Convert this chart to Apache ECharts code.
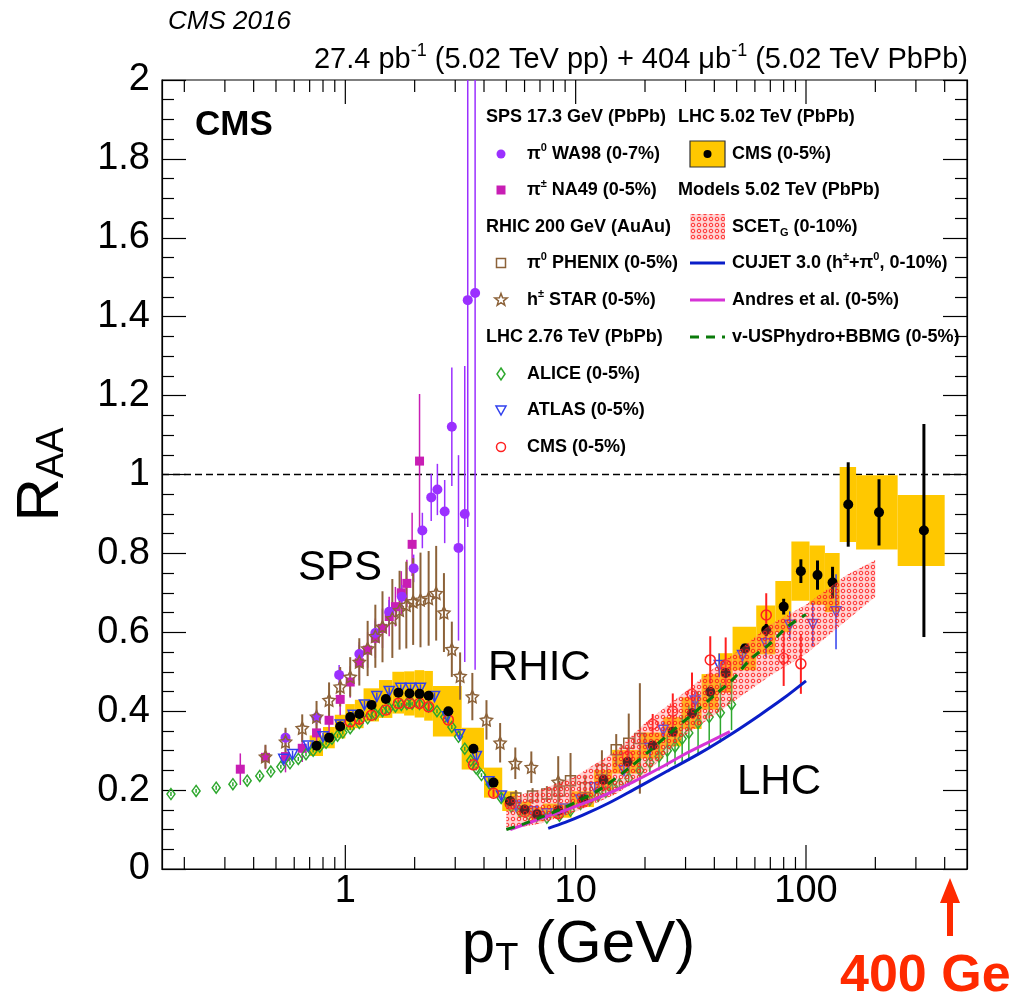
<!DOCTYPE html>
<html><head><meta charset="utf-8">
<script src="https://cdn.jsdelivr.net/npm/echarts@6/dist/echarts.min.js"></script>
<style>html,body{margin:0;padding:0;background:#fff}#c{width:1012px;height:997px}</style>
</head><body><div id="c"></div><script>
// ---------------- data ----------------
// [pT, R_AA, error]
const wa98 = [[0.55,0.333,0.02],[0.75,0.384,0.02],[0.94,0.492,0.025],[1.15,0.545,0.03],[1.35,0.598,0.03],[1.55,0.652,0.03],[1.76,0.69,0.03],[1.98,0.762,0.035],[2.16,0.858,0.045],[2.36,0.942,0.06],[2.51,0.962,0.065],[2.70,0.906,0.08],[2.90,1.121,0.15],[3.10,0.814,0.235],[3.30,0.90,0.375],[3.40,1.442,0.575],[3.66,1.46,0.955]];
const na49 = [[0.35,0.253,0.04],[0.45,0.283,0.03],[0.55,0.285,0.04],[0.65,0.306,0.035],[0.75,0.345,0.04],[0.85,0.377,0.045],[0.95,0.43,0.04],[1.05,0.474,0.04],[1.15,0.523,0.045],[1.25,0.555,0.045],[1.35,0.585,0.05],[1.45,0.61,0.05],[1.55,0.64,0.05],[1.65,0.665,0.05],[1.75,0.70,0.055],[1.85,0.724,0.06],[1.95,0.823,0.08],[2.1,1.034,0.17]];
const phenix = [[5.5,0.18,0.02],[6.5,0.185,0.02],[7.5,0.19,0.02],[8.5,0.198,0.025],[9.5,0.224,0.07],[11,0.206,0.03],[13,0.251,0.05],[15,0.302,0.04],[17,0.319,0.075],[19,0.331,0.14]];
const star = [[0.45,0.285,0.03],[0.55,0.323,0.035],[0.65,0.357,0.035],[0.75,0.386,0.04],[0.85,0.428,0.045],[0.95,0.462,0.05],[1.05,0.487,0.05],[1.15,0.525,0.06],[1.25,0.559,0.07],[1.35,0.59,0.08],[1.45,0.614,0.09],[1.6,0.635,0.1],[1.72,0.656,0.1],[1.84,0.669,0.11],[1.97,0.678,0.11],[2.12,0.682,0.12],[2.3,0.686,0.12],[2.48,0.699,0.12],[2.68,0.65,0.1],[2.9,0.557,0.07],[3.15,0.489,0.06],[3.56,0.437,0.06],[4.1,0.378,0.05],[4.7,0.32,0.05],[5.47,0.268,0.04],[6.42,0.258,0.04],[8.4,0.221,0.065]];
const alice = [[0.175,0.19,0.005],[0.225,0.198,0.005],[0.275,0.206,0.005],[0.325,0.215,0.005],[0.375,0.224,0.005],[0.425,0.236,0.005],[0.475,0.247,0.005],[0.525,0.259,0.005],[0.575,0.268,0.005],[0.625,0.279,0.005],[0.675,0.291,0.005],[0.725,0.300,0.005],[0.775,0.310,0.005],[0.825,0.320,0.005],[0.875,0.330,0.005],[0.925,0.338,0.005],[0.975,0.346,0.005],[1.05,0.357,0.005],[1.15,0.370,0.005],[1.25,0.382,0.005],[1.35,0.392,0.005],[1.45,0.400,0.005],[1.55,0.407,0.005],[1.65,0.412,0.005],[1.75,0.416,0.005],[1.85,0.418,0.005],[1.95,0.419,0.005],[2.1,0.418,0.005],[2.3,0.412,0.005],[2.5,0.400,0.005],[2.7,0.385,0.005],[2.9,0.36,0.005],[3.1,0.335,0.005],[3.3,0.305,0.005],[3.5,0.275,0.005],[3.7,0.255,0.005],[3.9,0.238,0.005],[4.25,0.215,0.005],[4.75,0.18,0.005],[5.25,0.158,0.005],[5.75,0.145,0.005],[6.25,0.138,0.005],[6.75,0.133,0.005],[7.5,0.13,0.006],[8.5,0.135,0.007],[9.5,0.148,0.008],[10.5,0.165,0.01],[11.5,0.175,0.01],[12.5,0.185,0.012],[13.5,0.195,0.013],[14.5,0.205,0.014],[15.5,0.215,0.015],[17,0.23,0.02],[19,0.25,0.025],[21,0.27,0.03],[23,0.285,0.035],[25,0.30,0.04],[27,0.31,0.045],[29,0.33,0.06],[31,0.345,0.07],[34,0.37,0.08],[38,0.385,0.08],[42.5,0.396,0.075],[47.5,0.417,0.065]];
const atlas = [[0.54,0.278,0.01],[0.59,0.29,0.01],[0.69,0.312,0.01],[0.8,0.335,0.01],[0.95,0.365,0.01],[1.08,0.39,0.01],[1.21,0.416,0.01],[1.37,0.437,0.01],[1.55,0.45,0.01],[1.74,0.458,0.01],[1.92,0.458,0.01],[2.12,0.458,0.01],[2.44,0.437,0.01],[2.77,0.386,0.01],[3.14,0.34,0.01],[3.71,0.285,0.01],[4.2,0.221,0.01],[4.76,0.185,0.01],[5.5,0.16,0.01],[6.5,0.145,0.01],[7.5,0.14,0.01],[9,0.152,0.01],[10.5,0.175,0.01],[12.1,0.206,0.012],[16.2,0.25,0.015],[21,0.306,0.02],[24,0.352,0.02],[33,0.426,0.025],[42,0.516,0.03],[53,0.541,0.03],[67,0.571,0.035],[85,0.618,0.035],[107,0.62,0.055],[135,0.652,0.095]];
const cms276 = [[1.05,0.373,0.01],[1.15,0.38,0.01],[1.3,0.39,0.01],[1.5,0.403,0.01],[1.7,0.42,0.01],[1.9,0.42,0.01],[2.1,0.42,0.01],[2.3,0.411,0.01],[2.8,0.378,0.01],[3.6,0.264,0.01],[4.4,0.192,0.01],[5.2,0.165,0.01],[6.0,0.145,0.01],[6.8,0.138,0.01],[8.4,0.14,0.01],[10.8,0.17,0.012],[13.2,0.215,0.018],[16.8,0.285,0.022],[21.6,0.367,0.026],[26.4,0.40,0.045],[32,0.443,0.055],[38.4,0.53,0.06],[44.8,0.517,0.07],[67.2,0.644,0.055],[80,0.534,0.07],[95,0.52,0.076]];
// CMS 5.02 TeV: [pT, R_AA, stat, syst, binLow, binHigh]
const cms502 = [[0.75,0.3125,0.003,0.026,0.7,0.8],[0.85,0.333,0.003,0.027,0.8,0.9],[0.95,0.361,0.003,0.03,0.9,1.0],[1.05,0.385,0.003,0.033,1.0,1.1],[1.15,0.393,0.003,0.036,1.1,1.2],[1.3,0.416,0.003,0.042,1.2,1.4],[1.5,0.431,0.003,0.048,1.4,1.6],[1.7,0.447,0.003,0.053,1.6,1.8],[1.9,0.445,0.003,0.056,1.8,2.0],[2.1,0.444,0.003,0.06,2.0,2.2],[2.3,0.439,0.003,0.063,2.2,2.4],[2.8,0.400,0.003,0.064,2.4,3.2],[3.6,0.305,0.003,0.053,3.2,4.0],[4.4,0.219,0.003,0.038,4.0,4.8],[5.2,0.172,0.003,0.025,4.8,5.6],[6.0,0.151,0.003,0.02,5.6,6.4],[6.8,0.139,0.003,0.018,6.4,7.2],[8.4,0.148,0.003,0.018,7.2,9.6],[10.8,0.177,0.004,0.02,9.6,12],[13.2,0.226,0.005,0.025,12,14.4],[16.8,0.272,0.005,0.03,14.4,19.2],[21.6,0.313,0.006,0.033,19.2,24],[26.4,0.348,0.007,0.037,24,28.8],[32,0.395,0.008,0.04,28.8,35.2],[38.4,0.449,0.009,0.045,35.2,41.6],[44.8,0.497,0.01,0.05,41.6,48],[54.4,0.559,0.012,0.055,48,60.8],[67.2,0.606,0.015,0.062,60.8,73.6],[80,0.665,0.02,0.065,73.6,86.4],[95,0.755,0.03,0.075,86.4,103.6],[112.2,0.745,0.037,0.075,103.6,120.8],[130.4,0.726,0.04,0.075,120.8,140],[152.5,0.924,0.107,0.095,140,165],[207.5,0.904,0.084,0.094,165,250],[325,0.858,0.27,0.09,250,400]];
// models
const scetPt   = [5,7,10,15,20,30,40,50,70,100,150,200];
const scetLow  = [0.10,0.115,0.145,0.19,0.24,0.34,0.39,0.43,0.49,0.545,0.63,0.69];
const scetHigh = [0.18,0.20,0.235,0.30,0.37,0.45,0.51,0.55,0.62,0.67,0.745,0.783];
const cujet = [[7.6,0.103],[9,0.118],[10.8,0.137],[14,0.168],[17.7,0.20],[24.8,0.247],[34.5,0.293],[48.2,0.345],[62.9,0.39],[79.6,0.432],[100,0.477]];
const andres = [[5.2,0.10],[7.0,0.127],[9.1,0.150],[12.7,0.182],[17.8,0.221],[23.2,0.256],[29.3,0.289],[37.1,0.319],[46.7,0.348]];
const vusp = [[5,0.10],[6,0.115],[7,0.13],[8.5,0.15],[10.5,0.175],[13,0.205],[17,0.255],[21,0.30],[25.6,0.344],[31.2,0.386],[40,0.44],[48,0.48],[57,0.53],[70,0.572],[83,0.614],[100,0.645]];
const refLevel = [1];
// axes
const xMin = 0.16, xMax = 500, yMin = 0, yMax = 2;
const xMajorTicks = [1,10,100];
const xMinorTicks = [0.2,0.3,0.4,0.5,0.6,0.7,0.8,0.9,2,3,4,5,6,7,8,9,20,30,40,50,60,70,80,90,200,300,400];

// ---------------- styling ----------------
const F = "'Liberation Sans', Arial, Helvetica, sans-serif";
const C = {wa98:'#9b30ff', na49:'#c81eb4', brown:'#8c6239', alice:'#2ea82e', atlas:'#3040ee', cms276:'#ff2020', yellow:'#ffc800', cujet:'#0a1ec8', andres:'#d633d6', vusp:'#0a7a0a', red:'#ff2a00'};

function makeHatch(){
  const c=document.createElement('canvas'); c.width=6; c.height=6;
  const g=c.getContext('2d');
  g.fillStyle='rgba(255,120,120,0.32)'; g.fillRect(0,0,6,6);
  g.strokeStyle='rgba(255,20,20,0.85)'; g.lineWidth=1;
  g.beginPath(); g.arc(3,3,1.8,0,Math.PI*2); g.stroke();
  return c;
}
const hatch = makeHatch();
const hatchFill = {image: hatch, repeat: 'repeat'};

const starPath = 'path://M0,-10L2.94,-4.05L9.51,-3.09L4.76,1.55L5.88,8.09L0,5L-5.88,8.09L-4.76,1.55L-9.51,-3.09L-2.94,-4.05Z';

function errSeries(data, color, w, z){
  return {type:'custom', silent:true, clip:true, z, data, encode:{x:0,y:1},
    renderItem:(p,api)=>{
      const x=api.value(0), y=api.value(1), e=api.value(2);
      const a=api.coord([x,y-e]), b=api.coord([x,y+e]);
      return {type:'line', shape:{x1:a[0],y1:a[1],x2:b[0],y2:b[1]}, style:{stroke:color, lineWidth:w}};
    }};
}
function markers(data, symbol, size, fill, stroke, bw, z, rot){
  return {type:'scatter', silent:true, z, data:data.map(d=>[d[0],d[1]]), symbol, symbolSize:size, symbolRotate:rot||0,
    itemStyle:{color:fill, borderColor:stroke, borderWidth:bw, opacity:1}};
}
function modelLine(data, color, type, z){
  return {type:'line', silent:true, z, data, smooth:0.3, showSymbol:false, symbol:'none',
    lineStyle:{color, width:3, type}};
}

const series = [
  {type:'custom', silent:true, z:1, data:refLevel.map(v=>[xMin,v]), encode:{x:0,y:1},
    renderItem:(p,api)=>{ const v=api.value(1); const a=api.coord([xMin,v]), b=api.coord([xMax,v]);
      return {type:'line', shape:{x1:a[0],y1:a[1],x2:b[0],y2:b[1]}, style:{stroke:'#000', lineWidth:1.5, lineDash:[7,4]}}; }},
  {type:'custom', silent:true, z:2, data:cms502, encode:{x:0,y:1},
    renderItem:(p,api)=>{ const y=api.value(1), s=api.value(3), lo=api.value(4), hi=api.value(5);
      const a=api.coord([lo,y+s]), b=api.coord([hi,y-s]);
      return {type:'rect', shape:{x:a[0], y:a[1], width:b[0]-a[0], height:b[1]-a[1]}, style:{fill:C.yellow}}; }},
  errSeries(na49, C.na49, 1.5, 3),
  errSeries(wa98, C.wa98, 1.5, 3),
  errSeries(star, C.brown, 2, 3),
  errSeries(phenix, C.brown, 2, 3),
  errSeries(alice, C.alice, 1.5, 3),
  errSeries(atlas, C.atlas, 1.5, 3),
  errSeries(cms276, C.cms276, 2, 3),
  errSeries(cms502, '#000', 3, 3),
  markers(na49, 'rect', 9, C.na49, C.na49, 0, 4),
  markers(wa98, 'circle', 10, C.wa98, C.wa98, 0, 4),
  markers(star, starPath, 12, 'rgba(0,0,0,0)', C.brown, 1.5, 4),
  markers(phenix, 'rect', 10, 'rgba(0,0,0,0)', C.brown, 1.5, 4),
  markers(alice, 'diamond', [8,11], 'rgba(0,0,0,0)', C.alice, 1.5, 4),
  markers(atlas, 'triangle', 10, 'rgba(0,0,0,0)', C.atlas, 1.5, 4, 180),
  markers(cms276, 'circle', 10, 'rgba(0,0,0,0)', C.cms276, 1.5, 4),
  markers(cms502, 'circle', 10, '#000', '#000', 0, 4),
  {type:'custom', silent:true, z:5, data:[[scetPt[0], scetLow[0]]], encode:{x:0,y:1},
    renderItem:(p,api)=>{ const pts=[];
      for(let i=0;i<scetPt.length;i++) pts.push(api.coord([scetPt[i], scetHigh[i]]));
      for(let i=scetPt.length-1;i>=0;i--) pts.push(api.coord([scetPt[i], scetLow[i]]));
      return {type:'polygon', shape:{points:pts}, style:{fill:hatchFill, stroke:null}}; }},
  modelLine(cujet, C.cujet, 'solid', 6),
  modelLine(andres, C.andres, 'solid', 6),
  modelLine(vusp, C.vusp, [9,7], 6),
  {type:'custom', silent:true, clip:false, z:10, data:xMajorTicks.concat(xMinorTicks).map(v=>[v,yMin]), encode:{x:0,y:1},
    renderItem:(p,api)=>{ const v=api.value(0); const L = xMajorTicks.indexOf(v)>=0 ? 24 : 12;
      const b=api.coord([v,yMin]), t=api.coord([v,yMax]);
      return {type:'group', children:[
        {type:'line', shape:{x1:b[0],y1:b[1],x2:b[0],y2:b[1]-L}, style:{stroke:'#000', lineWidth:1.2}},
        {type:'line', shape:{x1:t[0],y1:t[1],x2:t[0],y2:t[1]+L}, style:{stroke:'#000', lineWidth:1.2}}]}; }}
];

function txt(x,y,text,size,extra){
  const w=(extra&&extra.fontWeight)||'normal';
  return {type:'text', x, y, z:100, silent:true,
    style:Object.assign({text, fill:'#000', fontSize:size, fontFamily:F, align:'left', verticalAlign:'middle', textAlign:'left', textVerticalAlign:'middle',
      rich:{sup:{fontSize:Math.round(size*0.62), fontFamily:F, fontWeight:w, verticalAlign:'top', lineHeight:size*1.1},
            sub:{fontSize:Math.round(size*0.62), fontFamily:F, fontWeight:w, verticalAlign:'bottom', lineHeight:size*1.1},
            n:{fontSize:size, fontFamily:F, fontWeight:w, lineHeight:size*1.25}}}, extra||{})};
}
function ltxt(x,y,text){ return txt(x,y,text,18,{fontWeight:'bold'}); }
function starPts(cx,cy,R,r){ const a=[]; for(let i=0;i<10;i++){ const ang=-Math.PI/2+i*Math.PI/5; const rr=i%2?r:R; a.push([cx+rr*Math.cos(ang), cy+rr*Math.sin(ang)]);} return a; }

const LX1=501, TX1=527, HX1=486, BX=690, TX2=732, HX2=678;
const rows=[117,154,190,227,263,300,337,374,410,447];
const graphic = [
  txt(168,22,'CMS 2016',26,{fontStyle:'italic'}),
  txt(968,60,'{n|27.4 pb}{sup|-1}{n| (5.02 TeV pp) + 404 μb}{sup|-1}{n| (5.02 TeV PbPb)}',29,{align:'right',textAlign:'right'}),
  txt(195,125,'CMS',35,{fontWeight:'bold'}),
  txt(298,568,'SPS',42), txt(488,668,'RHIC',42), txt(737,782,'LHC',42),
  ltxt(HX1,rows[0],'SPS 17.3 GeV (PbPb)'),
  {type:'circle', z:100, shape:{cx:LX1, cy:rows[1], r:4.5}, style:{fill:C.wa98}},
  ltxt(TX1,rows[1],'{n|π}{sup|0}{n| WA98 (0-7%)}'),
  {type:'rect', z:100, shape:{x:LX1-4.5, y:rows[2]-4.5, width:9, height:9}, style:{fill:C.na49}},
  ltxt(TX1,rows[2],'{n|π}{sup|±}{n| NA49 (0-5%)}'),
  ltxt(HX1,rows[3],'RHIC 200 GeV (AuAu)'),
  {type:'rect', z:100, shape:{x:LX1-4.5, y:rows[4]-4.5, width:9, height:9}, style:{fill:'none', stroke:C.brown, lineWidth:1.5}},
  ltxt(TX1,rows[4],'{n|π}{sup|0}{n| PHENIX (0-5%)}'),
  {type:'polygon', z:100, shape:{points:starPts(LX1,rows[5],6.5,2.7)}, style:{fill:'none', stroke:C.brown, lineWidth:1.5}},
  ltxt(TX1,rows[5],'{n|h}{sup|±}{n| STAR (0-5%)}'),
  ltxt(HX1,rows[6],'LHC 2.76 TeV (PbPb)'),
  {type:'polygon', z:100, shape:{points:[[LX1,rows[7]-6],[LX1+4,rows[7]],[LX1,rows[7]+6],[LX1-4,rows[7]]]}, style:{fill:'none', stroke:C.alice, lineWidth:1.5}},
  ltxt(TX1,rows[7],'ALICE (0-5%)'),
  {type:'polygon', z:100, shape:{points:[[LX1-5,rows[8]-4],[LX1+5,rows[8]-4],[LX1,rows[8]+5]]}, style:{fill:'none', stroke:C.atlas, lineWidth:1.5}},
  ltxt(TX1,rows[8],'ATLAS (0-5%)'),
  {type:'circle', z:100, shape:{cx:LX1, cy:rows[9], r:4.5}, style:{fill:'none', stroke:C.cms276, lineWidth:1.5}},
  ltxt(TX1,rows[9],'CMS (0-5%)'),
  ltxt(HX2,rows[0],'LHC 5.02 TeV (PbPb)'),
  {type:'rect', z:100, shape:{x:BX, y:rows[1]-13, width:35, height:26}, style:{fill:C.yellow, stroke:'#333', lineWidth:1.2}},
  {type:'circle', z:101, shape:{cx:BX+17.5, cy:rows[1], r:4}, style:{fill:'#000'}},
  ltxt(TX2,rows[1],'CMS (0-5%)'),
  ltxt(HX2,rows[2],'Models 5.02 TeV (PbPb)'),
  {type:'rect', z:100, shape:{x:BX, y:rows[3]-13, width:35, height:26}, style:{fill:hatchFill}},
  ltxt(TX2,rows[3],'{n|SCET}{sub|G}{n| (0-10%)}'),
  {type:'line', z:100, shape:{x1:BX, y1:rows[4], x2:BX+35, y2:rows[4]}, style:{stroke:C.cujet, lineWidth:3}},
  ltxt(TX2,rows[4],'{n|CUJET 3.0 (h}{sup|±}{n|+π}{sup|0}{n|, 0-10%)}'),
  {type:'line', z:100, shape:{x1:BX, y1:rows[5], x2:BX+35, y2:rows[5]}, style:{stroke:C.andres, lineWidth:3}},
  ltxt(TX2,rows[5],'Andres et al. (0-5%)'),
  {type:'line', z:100, shape:{x1:BX, y1:rows[6], x2:BX+35, y2:rows[6]}, style:{stroke:C.vusp, lineWidth:3, lineDash:[9,7]}},
  ltxt(TX2,rows[6],'v-USPhydro+BBMG (0-5%)'),
  {type:'rect', z:100, shape:{x:947, y:900, width:6, height:36}, style:{fill:C.red}},
  {type:'polygon', z:100, shape:{points:[[950,878],[960,903],[940,903]]}, style:{fill:C.red}},
  txt(840,977,'400 Ge',52,{fontWeight:'bold', fill:C.red})
];

const chart = echarts.init(document.getElementById('c'), null, {renderer:'canvas'});
chart.setOption({
  animation:false,
  backgroundColor:'#fff',
  textStyle:{fontFamily:F},
  grid:{left:162, right:45, top:80, bottom:128, outerBoundsMode:'none', containLabel:false, show:true, borderColor:'#000', borderWidth:1.2, backgroundColor:'transparent'},
  xAxis:{type:'log', logBase:10, min:xMin, max:xMax,
    axisLine:{show:true, lineStyle:{color:'#000', width:1.2}},
    axisTick:{show:false}, minorTick:{show:false}, splitLine:{show:false},
    axisLabel:{fontSize:38, color:'#000', margin:4, fontFamily:F,
      formatter:(v)=>{ for(const t of xMajorTicks){ if(Math.abs(v-t)<1e-6*t) return String(t);} return ''; }},
    name:'{p|p}{t|T}{p| (GeV)}', nameLocation:'middle', nameGap:34,
    nameTextStyle:{color:'#000', padding:[0,0,0,28], rich:{p:{fontSize:60, fontFamily:F, lineHeight:66}, t:{fontSize:38, fontFamily:F, verticalAlign:'bottom', lineHeight:36}}}},
  yAxis:[
    {type:'value', min:yMin, max:yMax, interval:0.2,
      axisLine:{show:true, lineStyle:{color:'#000', width:1.2}},
      axisTick:{show:true, inside:true, length:24, lineStyle:{color:'#000', width:1.2}},
      minorTick:{show:true, splitNumber:4, length:12, lineStyle:{color:'#000', width:1.2}},
      splitLine:{show:false},
      axisLabel:{fontSize:38, color:'#000', margin:12, fontFamily:F},
      name:'{r|R}{s|AA}', nameLocation:'middle', nameRotate:90, nameGap:90,
      nameTextStyle:{color:'#000', rich:{r:{fontSize:60, fontFamily:F, lineHeight:62}, s:{fontSize:38, fontFamily:F, verticalAlign:'bottom', lineHeight:36}}}},
    {type:'value', position:'right', min:yMin, max:yMax, interval:0.2,
      axisLine:{show:true, lineStyle:{color:'#000', width:1.2}},
      axisTick:{show:true, inside:true, length:24, lineStyle:{color:'#000', width:1.2}},
      minorTick:{show:true, splitNumber:4, length:12, lineStyle:{color:'#000', width:1.2}},
      splitLine:{show:false}, axisLabel:{show:false}}
  ],
  series,
  graphic
});
</script></body></html>
